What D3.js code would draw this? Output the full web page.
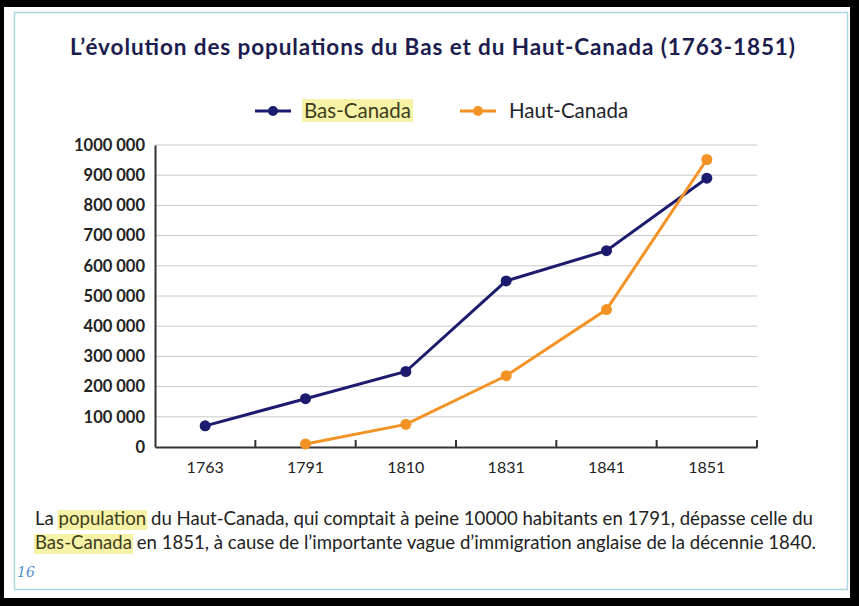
<!DOCTYPE html>
<html>
<head>
<meta charset="utf-8">
<script src="https://cdn.jsdelivr.net/npm/d3@7"></script>
<style>
  html, body { margin: 0; padding: 0; background: #000; }
  svg { display: block; }
</style>
</head>
<body>
<div id="chart"></div>
<script>
// data
const years = ["1763", "1791", "1810", "1831", "1841", "1851"];
const basCanada = [70000, 160000, 250000, 550000, 650000, 890000];
const hautCanada = [null, 10000, 75000, 236000, 455000, 952000];
const yTicks = [0, 100000, 200000, 300000, 400000, 500000, 600000, 700000, 800000, 900000, 1000000];
const yTickLabels = ["0", "100 000", "200 000", "300 000", "400 000", "500 000", "600 000", "700 000", "800 000", "900 000", "1000 000"];

const width = 859, height = 606;
const font = "Lato, 'Open Sans', sans-serif";

const svg = d3.select("#chart").append("svg")
    .attr("width", width)
    .attr("height", height);

// page background / frame
svg.append("rect").attr("x", 0).attr("y", 0).attr("width", width).attr("height", height).attr("fill", "#000");
svg.append("rect").attr("x", 4).attr("y", 7).attr("width", 846).attr("height", 591).attr("fill", "#fff");
svg.append("rect").attr("x", 14.5).attr("y", 12.5).attr("width", 833).attr("height", 577)
    .attr("fill", "none").attr("stroke", "#a9d6e0").attr("stroke-width", 1.5);

// title
svg.append("text")
    .attr("x", 70).attr("y", 55)
    .attr("textLength", 725)
    .attr("lengthAdjust", "spacing")
    .style("font-family", font)
    .style("font-weight", "bold")
    .style("font-size", "22.5px")
    .style("fill", "#1c1c4e")
    .text("L\u2019évolution des populations du Bas et du Haut-Canada (1763-1851)");

// scales
const x = d3.scaleBand().domain(years).range([155, 757]).padding(0);
const y = d3.scaleLinear().domain([0, 1000000]).range([447, 145]);
const cx = d => x(d) + x.bandwidth() / 2;

// gridlines
svg.append("g")
    .selectAll("line")
    .data(yTicks.slice(1))
    .join("line")
    .attr("x1", 155).attr("x2", 757)
    .attr("y1", d => y(d)).attr("y2", d => y(d))
    .attr("stroke", "#c8c8c8")
    .attr("stroke-width", 1);

// y axis
const yAxis = svg.append("g")
    .attr("transform", "translate(155,0)")
    .call(d3.axisLeft(y).tickValues(yTicks).tickFormat((d, i) => yTickLabels[i]).tickSize(0).tickPadding(10));
yAxis.select(".domain").attr("stroke", "#333").attr("stroke-width", 2);
yAxis.selectAll("text")
    .style("font-family", font)
    .style("font-weight", "bold")
    .style("font-size", "16.5px")
    .style("fill", "#222");

// x axis
const xAxis = svg.append("g")
    .attr("transform", "translate(0,447)")
    .call(d3.axisBottom(x).tickSize(0).tickPadding(15));
xAxis.select(".domain").attr("stroke", "#333").attr("stroke-width", 2);
xAxis.selectAll("text")
    .style("font-family", font)
    .style("font-size", "16px")
    .style("fill", "#222");
// tick marks between categories, pointing up
svg.append("g")
    .selectAll("line")
    .data(years)
    .join("line")
    .attr("x1", d => x(d) + x.bandwidth()).attr("x2", d => x(d) + x.bandwidth())
    .attr("y1", 447).attr("y2", 440)
    .attr("stroke", "#333").attr("stroke-width", 2);

// series
const series = [
    { name: "Bas-Canada", values: basCanada, color: "#1c1c6e" },
    { name: "Haut-Canada", values: hautCanada, color: "#f39325" }
];

const line = d3.line()
    .defined(d => d.v != null)
    .x(d => cx(d.year))
    .y(d => y(d.v));

series.forEach(s => {
    const pts = years.map((yr, i) => ({ year: yr, v: s.values[i] }));
    svg.append("path")
        .datum(pts)
        .attr("d", line)
        .attr("fill", "none")
        .attr("stroke", s.color)
        .attr("stroke-width", 3);
    svg.append("g")
        .selectAll("circle")
        .data(pts.filter(d => d.v != null))
        .join("circle")
        .attr("cx", d => cx(d.year))
        .attr("cy", d => y(d.v))
        .attr("r", 5.5)
        .attr("fill", s.color);
});

// legend
const legendX = [255, 460];
series.forEach((s, i) => {
    const g = svg.append("g").attr("transform", `translate(${legendX[i]},111)`);
    g.append("line").attr("x1", 0).attr("x2", 36).attr("y1", 0).attr("y2", 0)
        .attr("stroke", s.color).attr("stroke-width", 3);
    g.append("circle").attr("cx", 18).attr("cy", 0).attr("r", 5).attr("fill", s.color);
    const t = g.append("text")
        .attr("x", 49).attr("y", 7)
        .style("font-family", font)
        .style("font-size", "20.5px")
        .style("fill", i === 0 ? "#3d3d1c" : "#1f1f2a")
        .text(s.name);
    if (i === 0) {
        const bb = t.node().getBBox();
        g.insert("rect", "text")
            .attr("x", bb.x - 2).attr("y", bb.y + 1)
            .attr("width", bb.width + 4).attr("height", bb.height - 1)
            .attr("fill", "#f6f2a6");
    }
});

// caption
const captionLines = [
    [["La ", false], ["population", true], [" du Haut-Canada, qui comptait à peine 10000 habitants en 1791, dépasse celle du", false]],
    [["Bas-Canada", true], [" en 1851, à cause de l\u2019importante vague d\u2019immigration anglaise de la décennie 1840.", false]]
];
captionLines.forEach((parts, li) => {
    const g = svg.append("g");
    const base = 525 + li * 24;
    const t = g.append("text")
        .attr("x", 35).attr("y", base)
        .style("font-family", font)
        .style("font-size", "18.6px")
        .style("fill", "#222");
    parts.forEach(([str, hl]) => {
        const ts = t.append("tspan").text(str);
        if (hl) ts.style("fill", "#3d3d1c").classed("hl", true);
    });
    t.selectAll("tspan.hl").each(function () {
        const node = this;
        const start = node.getStartPositionOfChar(0).x;
        const w = node.getComputedTextLength();
        g.insert("rect", "text")
            .attr("x", start - 1).attr("y", base - 15)
            .attr("width", w + 2).attr("height", 20)
            .attr("fill", "#f6f2a6");
    });
});

// page number
svg.append("text")
    .attr("x", 17).attr("y", 577)
    .style("font-family", "'DejaVu Serif', 'Liberation Serif', serif")
    .style("font-style", "italic")
    .style("font-size", "14px")
    .style("fill", "#4f8fcc")
    .text("16");
</script>
</body>
</html>
